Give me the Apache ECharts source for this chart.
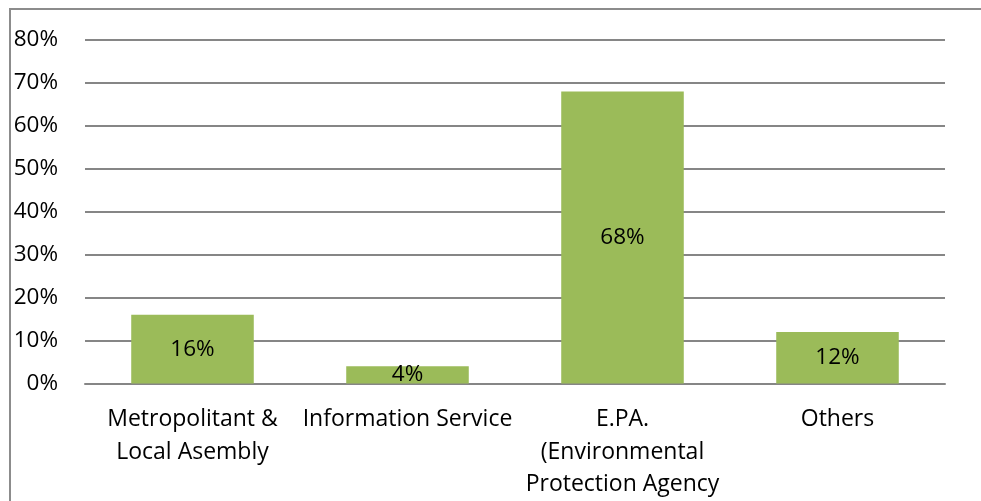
<!DOCTYPE html>
<html><head><meta charset="utf-8">
<script src="https://cdn.jsdelivr.net/npm/echarts@6/dist/echarts.min.js"></script>
<style>
html,body{margin:0;padding:0;background:#fff;}
#frame{position:absolute;left:9px;top:8px;width:1200px;height:800px;border:2px solid #8c8c8c;box-sizing:border-box;}
#c{position:absolute;left:0;top:0;width:981px;height:501px;}
</style></head>
<body>
<div id="frame"></div>
<div id="c"></div>
<script>
const categories = ["Metropolitant &\nLocal Asembly", "Information Service", "E.PA.\n(Environmental\nProtection Agency", "Others"];
const values = [16, 4, 68, 12];
const yTicks = [0, 10, 20, 30, 40, 50, 60, 70, 80];

const chart = echarts.init(document.getElementById('c'));
const font = '"Open Sans", sans-serif';
chart.setOption({
  animation: false,
  grid: {left: 85, right: 36, top: 40, bottom: 117},
  xAxis: {
    type: 'category', data: categories,
    axisLine: {lineStyle: {color: '#868686', width: 2}},
    axisTick: {show: false},
    axisLabel: {color: '#000', fontSize: 23, fontFamily: font, lineHeight: 32.5, margin: 20, interval: 0}
  },
  yAxis: {
    type: 'value', min: yTicks[0], max: yTicks[yTicks.length-1], interval: 10,
    axisLine: {show: false}, axisTick: {show: false},
    splitLine: {lineStyle: {color: '#868686', width: 2}},
    axisLabel: {color: '#000', fontSize: 22.5, fontFamily: font, margin: 27, padding: [3, 0, 0, 0], formatter: v => v + '%'}
  },
  series: [{
    type: 'bar', data: values, barCategoryGap: '43%',
    itemStyle: {color: '#9BBB59'},
    label: {show: true, position: 'inside', color: '#000', fontSize: 22.5, fontFamily: font, formatter: p => p.value + '%'}
  }]
});
</script>
</body></html>
